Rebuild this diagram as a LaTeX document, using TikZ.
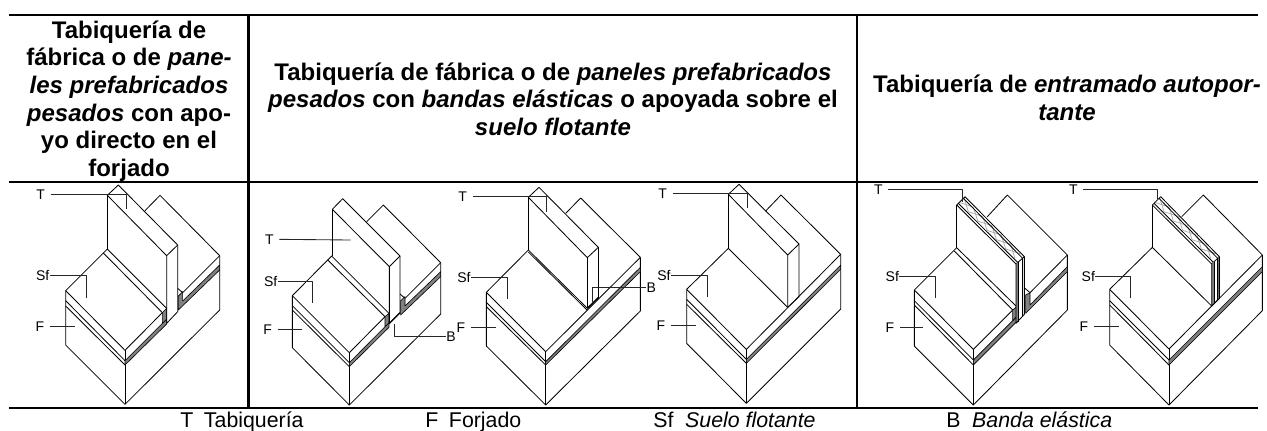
\documentclass[tikz,border=0pt]{standalone}
\usepackage{fontspec}
\setmainfont{Liberation Sans}
\definecolor{bandgrey}{gray}{0.5}
\definecolor{hatchgrey}{gray}{0.66}
\tikzset{
  px/.style={x=0.75pt,y=-0.75pt},
  fig/.style={shift={(#1,170)},x=0.25pt,y=-0.25pt,line width=0.62pt,line join=round},
  rule/.style={line width=1.6pt},
  leader/.style={line width=0.65pt,draw=black!85},
  band/.style={fill=bandgrey,draw=black,line width=0.45pt},
  lab/.style={font=\fontsize{10.5pt}{12pt}\selectfont,inner sep=0pt,text height=7.5pt,text depth=0pt},
  head/.style={font=\fontsize{18pt}{20.7pt}\bfseries\selectfont,align=center,inner sep=0pt},
  captext/.style={font=\fontsize{16pt}{18pt}\selectfont,inner sep=0pt,anchor=base west},
  hatchline/.style={draw=hatchgrey,line width=0.55pt}
}
\begin{document}
\begin{tikzpicture}[px]
\useasboundingbox (0,0) rectangle (1267,430);
% table rules
\coordinate (tl) at (9,15); \coordinate (tr) at (1258,15);
\coordinate (ml) at (9,182); \coordinate (mr) at (1258,182);
\coordinate (bl) at (9,408); \coordinate (br) at (1258,408);
\draw[rule] (tl) -- (tr);
\draw[rule] (ml) -- (mr);
\draw[rule] (bl) -- (br);
\coordinate (v1t) at (248.5,15); \coordinate (v1b) at (248.5,408);
\coordinate (v2t) at (857,15); \coordinate (v2b) at (857,408);
\draw[rule] (v1t) -- (v1b);
\draw[rule] (v2t) -- (v2b);
% headers
\node[head] (h1) at (129,101) {Tabiquería de\\fábrica o de \textit{pane-}\\\textit{les prefabricados}\\\textit{pesados} con apo-\\yo directo en el\\forjado};
\node[head] (h2) at (553,99) {Tabiquería de fábrica o de \textit{paneles prefabricados}\\\textit{pesados} con \textit{bandas elásticas} o apoyada sobre el\\\textit{suelo flotante}};
\node[head] (h3) at (1067,98) {Tabiquería de \textit{entramado autopor-}\\\textit{tante}};
% captions
\node[captext] (c1) at (180,427.5) {T\hspace{0.5em}Tabiquería};
\node[captext] (c2) at (425,427.5) {F\hspace{0.5em}Forjado};
\node[captext] (c3) at (653,427.5) {Sf\hspace{0.55em}\textit{Suelo flotante}};
\node[captext] (c4) at (946,427.5) {B\hspace{0.55em}\textit{Banda elástica}};
% ---------- figure 1
\begin{scope}[fig=0]
\draw (197,362)--(197,525)--(375,703)--(659,420)--(659,257);
\draw (375,541)--(375,703);
\draw (197,362)--(375,541); \draw (197,392)--(375,572); \draw (197,408)--(375,585);
\draw (375,541)--(487,428);
\draw[band] (375,572)--(487,460)--(500,447)--(500,462)--(375,585)--cycle;
\draw[band] (487,428)--(500,415)--(500,447)--(487,460)--cycle;
\draw (197,362)--(322,237)--(500,415); \draw (310,249)--(487,428);
\draw (322,76)--(355,45)--(533,225)--(500,257)--cycle;
\draw (322,76)--(322,237);
\draw (500,257)--(500,460)--(533,425)--(533,225);
\draw (435,122)--(480,76)--(659,257);
\draw (533,355)--(548,368)--(659,257);
\draw[band] (535,378)--(548,365)--(548,393)--(659,285)--(659,300)--(535,420)--cycle;
\node[lab] (t1) at (122,72) {T}; \coordinate (t1e) at (378,118);
\node[lab] (s1) at (128,316) {Sf}; \coordinate (s1e) at (260,383);
\node[lab] (f1) at (120,468) {F}; \coordinate (f1e) at (225,468);
\draw[leader] (t1.east)++(4pt,0) -| (t1e);
\draw[leader] (s1.east) -| (s1e);
\draw[leader] (f1.east)++(4pt,0) -- (f1e);
\end{scope}
% ---------- figure 2
\begin{scope}[fig=250]
\draw (127,377)--(127,533)--(298,705)--(572,432)--(572,278);
\draw (298,548)--(298,705);
\draw (127,377)--(298,548); \draw (127,407)--(298,578); \draw (127,420)--(298,590);
\draw (298,548)--(405,440);
\draw[band] (298,578)--(405,470)--(417,458)--(417,472)--(298,590)--cycle;
\draw[band] (405,440)--(417,430)--(417,458)--(405,470)--cycle;
\draw (127,377)--(245,258)--(417,430); \draw (233,270)--(405,440);
\draw (247,118)--(278,86)--(450,258)--(418,290)--cycle;
\draw (247,118)--(247,258);
\draw (418,290)--(418,460)--(450,428)--(450,258);
\draw[line width=0.9pt] (418,460)--(450,428);
\draw (350,155)--(400,105)--(572,278);
\draw (450,372)--(465,385)--(572,278);
\draw[band] (452,392)--(465,380)--(465,408)--(572,305)--(572,320)--(452,435)--cycle;
\node[lab] (t2) at (58,208) {T}; \coordinate (t2e) at (302,210);
\node[lab] (s2) at (62,333) {Sf}; \coordinate (s2e) at (188,398);
\node[lab] (f2) at (53,478) {F}; \coordinate (f2e) at (155,478);
\node[lab] (b2) at (603,498) {B}; \coordinate (b2e) at (434,462);
\draw[leader] (t2.east)++(4pt,0) -- (t2e);
\draw[leader] (s2.east) -| (s2e);
\draw[leader] (f2.east)++(4pt,0) -- (f2e);
\draw[leader] (b2.west) -| (b2e);
\end{scope}
% ---------- figure 3
\begin{scope}[fig=450]
\draw (109,367)--(109,528)--(287,705)--(571,423)--(571,262);
\draw (287,545)--(287,705);
\draw (109,367)--(287,545); \draw (109,397)--(287,575); \draw (109,410)--(287,585);
\draw (287,545)--(571,262);
\draw[band] (287,575)--(571,292)--(571,305)--(287,585)--cycle;
\draw (109,367)--(235,240)--(412,415); \draw (235,246)--(412,421);
\draw (235,82)--(267,52)--(445,232)--(412,263)--cycle;
\draw (235,82)--(235,240);
\draw (412,263)--(412,415); \draw (445,232)--(445,383);
\draw[line width=1.1pt] (412,415)--(445,383);
\draw (347,130)--(392,84)--(571,262);
\node[lab] (t3) at (38,80) {T}; \coordinate (t3e) at (290,125);
\node[lab] (s3) at (42,322) {Sf}; \coordinate (s3e) at (172,386);
\node[lab] (f3) at (33,472) {F}; \coordinate (f3e) at (137,472);
\node[lab] (b3) at (604,353) {B}; \coordinate (b3e) at (428,395);
\draw[leader] (t3.east)++(4pt,0) -| (t3e);
\draw[leader] (s3.east) -| (s3e);
\draw[leader] (f3.east)++(4pt,0) -- (f3e);
\draw[leader] (b3.west) -| (b3e);
\end{scope}
% ---------- figure 4
\begin{scope}[fig=650]
\draw (110,358)--(110,520)--(289,700)--(572,417)--(572,253);
\draw (289,538)--(289,700);
\draw (110,358)--(289,538); \draw (110,388)--(289,568); \draw (110,403)--(289,580);
\draw (289,538)--(572,253);
\draw[band] (289,568)--(572,285)--(572,298)--(289,580)--cycle;
\draw (110,358)--(235,235)--(413,412);
\draw (235,73)--(267,43)--(447,222)--(413,255)--cycle;
\draw (235,73)--(235,235);
\draw (413,255)--(413,412)--(447,380)--(447,222);
\draw (348,122)--(393,75)--(572,253);
\node[lab] (t4) at (38,70) {T}; \coordinate (t4e) at (292,115);
\node[lab] (s4) at (42,315) {Sf}; \coordinate (s4e) at (173,380);
\node[lab] (f4) at (33,465) {F}; \coordinate (f4e) at (137,465);
\draw[leader] (t4.east)++(4pt,0) -| (t4e);
\draw[leader] (s4.east) -| (s4e);
\draw[leader] (f4.east)++(4pt,0) -- (f4e);
\end{scope}
% ---------- figure 5
\begin{scope}[fig=860]
\draw (163,360)--(163,528)--(340,705)--(622,420)--(622,255);
\draw (340,538)--(340,705);
\draw (163,360)--(340,538); \draw (163,392)--(340,570); \draw (163,405)--(340,585);
\draw (340,538)--(458,420);
\draw[band] (340,570)--(458,452)--(470,440)--(470,455)--(340,585)--cycle;
\draw[band] (458,420)--(470,410)--(470,440)--(458,452)--cycle;
\draw (163,360)--(290,233)--(470,410); \draw (283,243)--(458,420);
\foreach \i in {0,1,...,5} {
  \draw[hatchline] ({297+\i*28},{97+\i*28}) -- ({340+\i*28},{111+\i*28});
  \draw[hatchline] ({312+\i*28},{83+\i*28}) -- ({325+\i*28},{125+\i*28});
}
\draw (290,105)--(315,80)--(493,260)--(468,282)--cycle;
\draw (295,100)--(473,277); \draw (310,85)--(488,265);
\draw (290,105)--(290,233);
\fill[bandgrey] (468,282)--(474,277)--(474,455)--(468,460)--cycle;
\draw (468,282)--(468,460)--(493,433)--(493,260);
\draw (474,277)--(474,455); \draw (486,266)--(486,440);
\draw (382,140)--(442,75)--(622,255);
\draw (495,355)--(510,368)--(622,255);
\draw[band] (497,375)--(510,368)--(510,405)--(622,290)--(622,305)--(497,430)--cycle;
\node[lab] (t5) at (55,58) {T}; \coordinate (t5e) at (307,95);
\node[lab] (s5) at (97,320) {Sf}; \coordinate (s5e) at (227,385);
\node[lab] (f5) at (90,472) {F}; \coordinate (f5e) at (190,472);
\draw[leader] (t5.east)++(4pt,0) -| (t5e);
\draw[leader] (s5.east) -| (s5e);
\draw[leader] (f5.east)++(4pt,0) -- (f5e);
\end{scope}
% ---------- figure 6
\begin{scope}[fig=1060]
\draw (149,358)--(149,525)--(327,705)--(607,422)--(607,255);
\draw (327,537)--(327,705);
\draw (149,358)--(327,537); \draw (149,392)--(327,570); \draw (149,405)--(327,585);
\draw (327,537)--(607,255);
\draw[band] (327,570)--(607,290)--(607,305)--(327,585)--cycle;
\draw (149,358)--(277,232)--(455,408);
\foreach \i in {0,1,...,5} {
  \draw[hatchline] ({284+\i*28},{97+\i*28}) -- ({327+\i*28},{111+\i*28});
  \draw[hatchline] ({299+\i*28},{83+\i*28}) -- ({312+\i*28},{125+\i*28});
}
\draw (277,105)--(302,80)--(478,260)--(455,282)--cycle;
\draw (282,100)--(460,277); \draw (297,85)--(473,265);
\draw (277,105)--(277,232);
\fill[bandgrey] (455,282)--(462,275)--(462,402)--(455,408)--cycle;
\fill[bandgrey] (472,265)--(478,260)--(478,385)--(472,392)--cycle;
\draw (455,282)--(455,408)--(478,385)--(478,260);
\draw (462,275)--(462,402); \draw (472,265)--(472,392);
\draw (365,140)--(430,75)--(607,255);
\node[lab] (t6) at (40,58) {T}; \coordinate (t6e) at (293,88);
\node[lab] (s6) at (85,320) {Sf}; \coordinate (s6e) at (212,385);
\node[lab] (f6) at (72,470) {F}; \coordinate (f6e) at (178,470);
\draw[leader] (t6.east)++(4pt,0) -| (t6e);
\draw[leader] (s6.east) -| (s6e);
\draw[leader] (f6.east)++(4pt,0) -- (f6e);
\end{scope}
\end{tikzpicture}
\end{document}
